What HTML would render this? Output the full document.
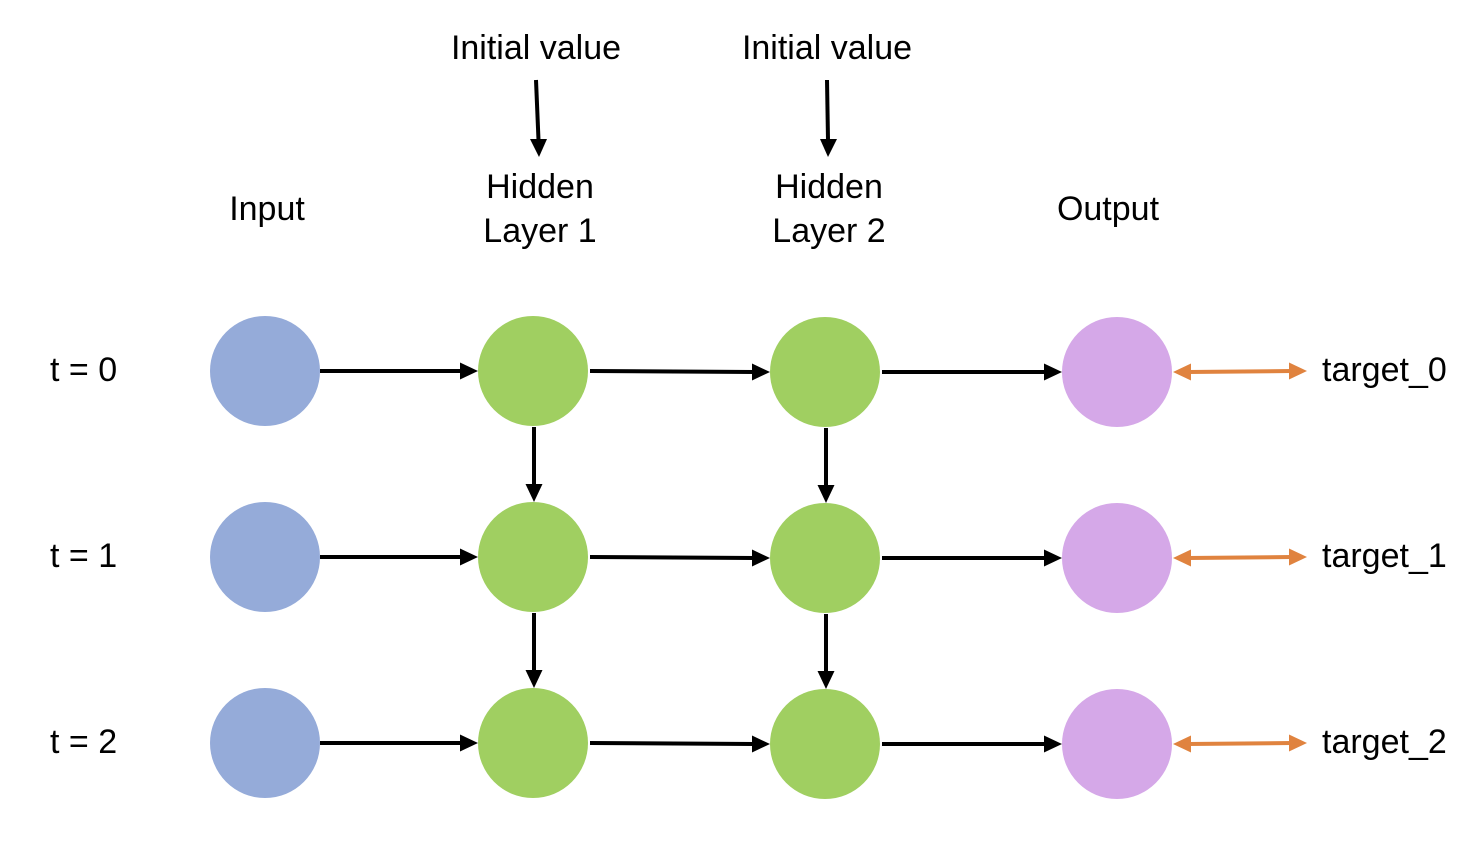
<!DOCTYPE html>
<html><head><meta charset="utf-8"><style>
body{margin:0;background:#fff;}
svg text{font-family:"Liberation Sans","NanumGothic",sans-serif;font-size:34px;fill:#000;}
</style></head><body>
<svg width="1484" height="848" viewBox="0 0 1484 848" xmlns="http://www.w3.org/2000/svg">
<g stroke="#000" stroke-width="4">
<line x1="536" y1="80" x2="538.5" y2="140"/>
<line x1="827" y1="80" x2="828" y2="140"/>
<line x1="320" y1="371" x2="462" y2="371"/>
<line x1="590" y1="371" x2="754" y2="372"/>
<line x1="882" y1="372" x2="1046" y2="372"/>
<line x1="320" y1="557" x2="462" y2="557"/>
<line x1="590" y1="557" x2="754" y2="558"/>
<line x1="882" y1="558" x2="1046" y2="558"/>
<line x1="320" y1="743" x2="462" y2="743"/>
<line x1="590" y1="743" x2="754" y2="744"/>
<line x1="882" y1="744" x2="1046" y2="744"/>
<line x1="534" y1="427" x2="534" y2="486"/>
<line x1="534" y1="613" x2="534" y2="672"/>
<line x1="826" y1="428" x2="826" y2="487"/>
<line x1="826" y1="614" x2="826" y2="673"/>
</g>
<g fill="#000">
<polygon points="530,139 547,139 539,157"/>
<polygon points="820,139 837,139 828,157"/>
<polygon points="460,362.5 478,371 460,379.5"/>
<polygon points="752,363.5 770,372 752,380.5"/>
<polygon points="1044,363.5 1062,372 1044,380.5"/>
<polygon points="460,548.5 478,557 460,565.5"/>
<polygon points="752,549.5 770,558 752,566.5"/>
<polygon points="1044,549.5 1062,558 1044,566.5"/>
<polygon points="460,734.5 478,743 460,751.5"/>
<polygon points="752,735.5 770,744 752,752.5"/>
<polygon points="1044,735.5 1062,744 1044,752.5"/>
<polygon points="525.5,484 542.5,484 534,502"/>
<polygon points="525.5,670 542.5,670 534,688"/>
<polygon points="817.5,485 834.5,485 826,503"/>
<polygon points="817.5,671 834.5,671 826,689"/>
</g>
<g stroke="#e0833f" stroke-width="4">
<line x1="1188" y1="372" x2="1292" y2="371"/>
<line x1="1188" y1="558" x2="1292" y2="557"/>
<line x1="1188" y1="744" x2="1292" y2="743"/>
</g>
<g fill="#e0833f">
<polygon points="1173,372 1191,363.5 1191,380.5"/>
<polygon points="1307,371 1289,362.5 1289,379.5"/>
<polygon points="1173,558 1191,549.5 1191,566.5"/>
<polygon points="1307,557 1289,548.5 1289,565.5"/>
<polygon points="1173,744 1191,735.5 1191,752.5"/>
<polygon points="1307,743 1289,734.5 1289,751.5"/>
</g>
<g fill="#95abd9"><circle cx="265" cy="371" r="55"/><circle cx="265" cy="557" r="55"/><circle cx="265" cy="743" r="55"/></g>
<g fill="#a0cf61"><circle cx="533" cy="371" r="55"/><circle cx="533" cy="557" r="55"/><circle cx="533" cy="743" r="55"/>
<circle cx="825" cy="372" r="55"/><circle cx="825" cy="558" r="55"/><circle cx="825" cy="744" r="55"/></g>
<g fill="#d5a8e8"><circle cx="1117" cy="372" r="55"/><circle cx="1117" cy="558" r="55"/><circle cx="1117" cy="744" r="55"/></g>
<text x="536" y="59" text-anchor="middle">Initial value</text>
<text x="827" y="59" text-anchor="middle">Initial value</text>
<text x="267" y="220" text-anchor="middle">Input</text>
<text x="540" y="198" text-anchor="middle">Hidden</text>
<text x="540" y="242" text-anchor="middle">Layer 1</text>
<text x="829" y="198" text-anchor="middle">Hidden</text>
<text x="829" y="242" text-anchor="middle">Layer 2</text>
<text x="1108" y="220" text-anchor="middle">Output</text>
<text x="50" y="381">t = 0</text>
<text x="50" y="567">t = 1</text>
<text x="50" y="753">t = 2</text>
<text x="1322" y="381">target_0</text>
<text x="1322" y="567">target_1</text>
<text x="1322" y="753">target_2</text>
</svg>
</body></html>
